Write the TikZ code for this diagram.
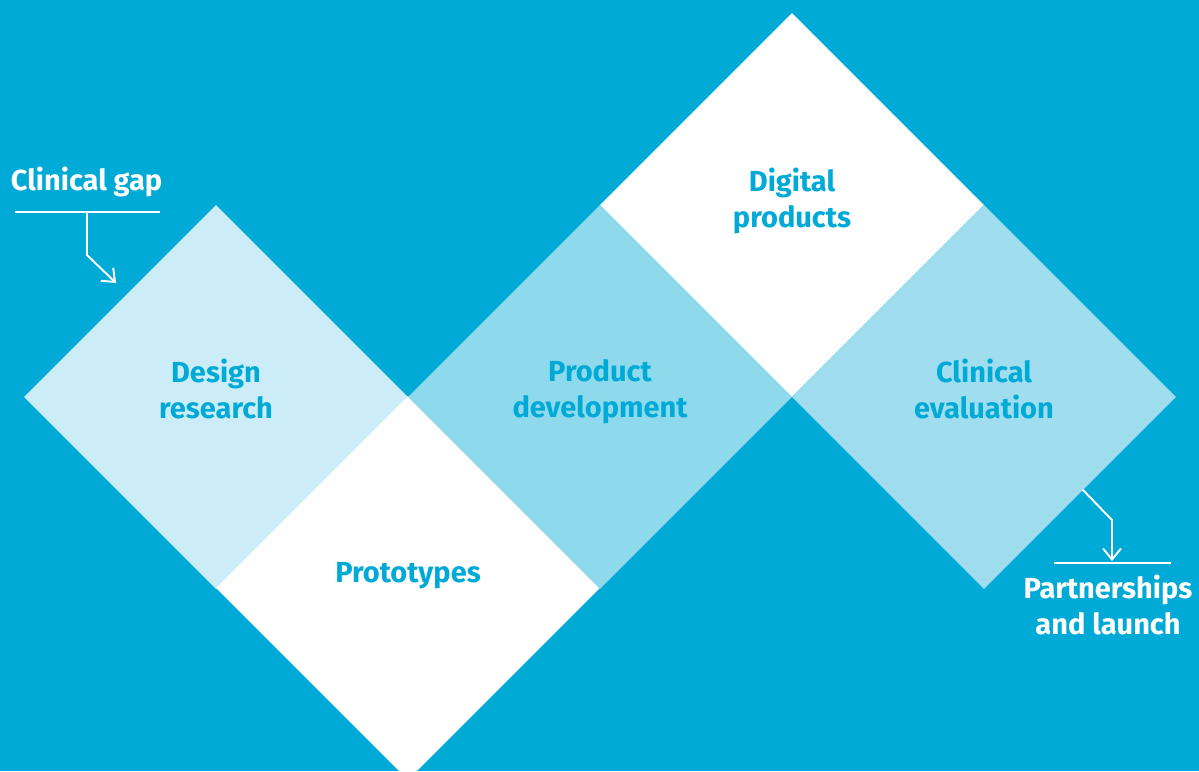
\documentclass[tikz,border=0pt]{standalone}
\usepackage{fontspec}
\setmainfont{Fira Sans}
\usetikzlibrary{shapes.geometric,arrows.meta}

\definecolor{bgblue}{HTML}{00AAD7}
\definecolor{designc}{HTML}{CCEDF7}
\definecolor{prodc}{HTML}{8FD9EC}
\definecolor{evalc}{HTML}{A0DEEF}

\begin{document}
\begin{tikzpicture}[x=0.02cm,y=-0.02cm,line width=1.1pt]
                \tikzstyle{tile}=[diamond,aspect=1,minimum width=7.66cm,minimum height=7.66cm,inner sep=0pt,outer sep=0pt,line width=0.4pt]
                \tikzstyle{tiletext}=[text=bgblue,font=\bfseries\fontsize{16.5}{20.5}\selectfont,align=center,inner sep=0pt]
                \tikzstyle{note}=[text=white,font=\bfseries\fontsize{16.5}{20.5}\selectfont,align=center,inner sep=0pt]
                \tikzstyle{pointer}=[draw=white,-{Straight Barb[length=2.2mm,width=3.6mm]}]

                \fill[bgblue] (0,0) rectangle (1199,771);
                \useasboundingbox (0,0) rectangle (1199,771);
                \clip (0,0) rectangle (1199,771);

                \foreach \nm/\x/\y/\col in {dr/216/397/designc, pt/408/588/white, pd/600/397/prodc, dp/792/205/white, ce/984/397/evalc}
                        \node[tile,fill=\col,draw=\col] (T-\nm) at (\x,\y) {};

                \node[tiletext] (L-dr) at (216,389) {Design\\research};
                \node[tiletext] (L-pt) at (408,576) {Prototypes};
                \node[tiletext] (L-pd) at (600,392) {Product\\development};
                \node[tiletext] (L-dp) at (792,201) {Digital\\products};
                \node[tiletext] (L-ce) at (984,389) {Clinical\\evaluation};

                % in and out
                \node[note,anchor=west] (gap) at (10,182) {Clinical gap};
                \node[note] (launch) at (1108,605) {Partnerships\\and launch};

                \coordinate (gap-l) at (15,212);
                \coordinate (gap-r) at (160,212);
                \coordinate (gap-m) at (87,212);
                \coordinate (gap-k) at (87,255);
                \coordinate (gap-e) at (116,283);
                \draw[white] (gap-l) -- (gap-r);
                \draw[pointer] (gap-m) -- (gap-k) -- (gap-e);

                \coordinate (out-l) at (1054,563);
                \coordinate (out-r) at (1171,563);
                \coordinate (out-k) at (1112,520);
                \coordinate (out-e) at (1112,561);
                \draw[white] (out-l) -- (out-r);
                \draw[pointer] ([shift={(3,-3)}]T-ce.south east) -- (out-k) -- (out-e);
\end{tikzpicture}
\end{document}
